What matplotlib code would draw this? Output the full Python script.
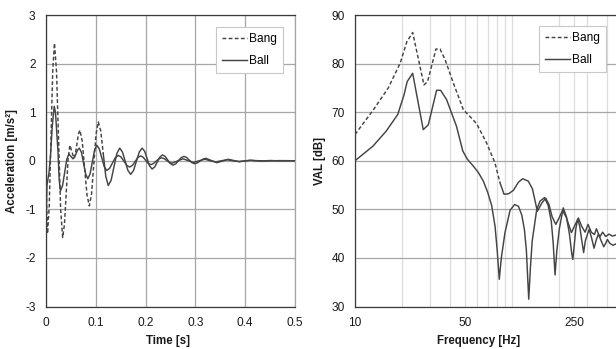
import matplotlib
matplotlib.use("Agg")
import matplotlib.pyplot as plt
from matplotlib.ticker import FixedLocator, NullFormatter

plt.rcParams['font.family'] = ['Liberation Sans', 'DejaVu Sans']

# ---------------- data: time signal ----------------
t_bang = [0.000, 0.003, 0.0065, 0.010, 0.0135, 0.017, 0.0211, 0.0253, 0.0294, 0.0335,
          0.0371, 0.0408, 0.0444, 0.048, 0.052, 0.056, 0.059, 0.062, 0.065, 0.068,
          0.0728, 0.0775, 0.0823, 0.087, 0.0915, 0.096, 0.1005, 0.105, 0.110, 0.115,
          0.120, 0.125, 0.1308, 0.1365, 0.1423, 0.148, 0.1535, 0.159, 0.1645, 0.170,
          0.1758, 0.1815, 0.1873, 0.193, 0.198, 0.203, 0.208, 0.213, 0.2183, 0.2235,
          0.2288, 0.234, 0.2393, 0.2445, 0.2498, 0.255, 0.2605, 0.266, 0.2715, 0.277,
          0.2823, 0.2875, 0.2928, 0.298, 0.3038, 0.3095, 0.3153, 0.321, 0.332, 0.343,
          0.3545, 0.366, 0.377, 0.388, 0.399, 0.410, 0.430, 0.450, 0.470, 0.500]
v_bang = [-0.40, -1.50, -0.93, 0.46, 1.85, 2.42, 1.84, 0.42, -1.00, -1.58,
          -1.30, -0.63, 0.04, 0.32, 0.185, 0.05, 0.135, 0.34, 0.545, 0.63,
          0.40, -0.15, -0.70, -0.93, -0.68, -0.065, 0.55, 0.80, 0.61, 0.145,
          -0.32, -0.51, -0.40, -0.125, 0.15, 0.26, 0.18, -0.01, -0.20, -0.28,
          -0.20, -0.01, 0.18, 0.26, 0.197, 0.045, -0.107, -0.17, -0.128, -0.025,
          0.078, 0.12, 0.089, 0.015, -0.059, -0.09, -0.064, 0.0, 0.064, 0.09,
          0.068, 0.015, -0.038, -0.06, -0.044, -0.005, 0.034, 0.05, 0.005, -0.04,
          -0.005, 0.03, 0.005, -0.02, -0.005, 0.01, -0.008, 0.005, -0.003, 0.0]

t_ball = [0.000, 0.002, 0.006, 0.009, 0.0125, 0.0165, 0.019, 0.0215, 0.024, 0.0265,
          0.029, 0.0333, 0.0375, 0.0418, 0.046, 0.050, 0.054, 0.0573, 0.0605, 0.0638,
          0.067, 0.0713, 0.0755, 0.0798, 0.084, 0.0885, 0.093, 0.0975, 0.102, 0.107,
          0.112, 0.117, 0.122, 0.1278, 0.1335, 0.1393, 0.145, 0.1508, 0.1565, 0.1623,
          0.168, 0.1735, 0.179, 0.1845, 0.190, 0.195, 0.200, 0.205, 0.210, 0.2155,
          0.221, 0.2265, 0.232, 0.2373, 0.2425, 0.2478, 0.253, 0.264, 0.275, 0.2855,
          0.296, 0.3075, 0.319, 0.330, 0.341, 0.352, 0.364, 0.375, 0.387, 0.410,
          0.440, 0.470, 0.500]
v_ball = [-1.20, -0.50, -0.25, 0.10, 0.70, 1.12, 1.00, 0.60, 0.20, -0.40,
          -0.62, -0.51, -0.24, 0.03, 0.14, 0.09, 0.04, 0.072, 0.15, 0.228,
          0.26, 0.168, -0.055, -0.278, -0.37, -0.27, -0.025, 0.22, 0.32, 0.244,
          0.06, -0.124, -0.20, -0.155, -0.045, 0.065, 0.11, 0.075, -0.01, -0.095,
          -0.13, -0.096, -0.015, 0.066, 0.10, 0.074, 0.01, -0.054, -0.08, -0.06,
          -0.01, 0.04, 0.06, 0.044, 0.005, -0.034, -0.05, -0.005, 0.04, 0.003,
          -0.035, 0.0, 0.03, 0.0, -0.025, 0.0, 0.02, 0.0, -0.015, 0.008,
          -0.005, 0.003, 0.0]

# ---------------- data: spectrum ----------------
f_bang = [10.0, 13.1, 16.3, 19.4, 21.4, 23.3, 27.5, 29.0, 32.8, 34.8,
          37.5, 42.3, 49.0, 54.0, 59.6, 68.8, 77.8, 83.8, 89.0, 95.0,
          102, 110, 117, 127, 135, 145, 155, 164, 172, 180,
          190, 200, 210, 222, 239, 252, 265, 278, 292, 305,
          320, 335, 345, 362, 378, 395, 415, 435, 460]
val_bang = [65.4, 70.5, 75.0, 80.1, 84.5, 86.4, 75.6, 76.3, 83.0, 83.0,
            80.8, 76.0, 70.5, 69.1, 67.6, 63.7, 59.6, 55.5, 53.1, 53.2,
            53.9, 55.6, 56.3, 55.8, 54.2, 49.6, 51.3, 52.3, 51.0, 48.5,
            46.9, 48.3, 49.8, 48.3, 45.2, 46.8, 48.2, 46.5, 45.3, 46.9,
            45.3, 44.8, 46.0, 44.3, 45.3, 44.4, 44.9, 44.5, 44.7]

f_ball = [10.0, 13.0, 15.8, 18.7, 20.5, 21.5, 23.3, 27.2, 29.3, 33.1,
          35.1, 38.3, 44.3, 48.6, 52.0, 56.7, 61.0, 65.7, 70.0, 74.2,
          78.0, 80.5, 83.0, 85.5, 90.2, 97.2, 104, 110, 115.5, 120,
          123.5, 127.8, 131, 134.5, 143.8, 151, 161, 170, 178, 183,
          188, 193, 200, 212, 222, 232, 240, 244, 249, 255,
          262, 270, 280, 286, 293, 310, 322, 333, 345, 355,
          370, 384, 395, 405, 420, 440, 460]
val_ball = [60.0, 63.0, 66.1, 69.5, 73.5, 76.3, 78.0, 66.4, 67.4, 74.5,
            74.5, 72.6, 67.1, 62.0, 60.3, 58.9, 57.6, 55.8, 53.5, 50.8,
            46.5, 41.5, 35.6, 40.0, 45.2, 49.8, 51.0, 50.6, 48.8, 45.8,
            41.5, 31.5, 38.0, 43.5, 50.0, 51.7, 52.4, 50.8, 47.5, 43.0,
            36.5, 41.5, 45.9, 50.3, 48.5, 45.0, 41.0, 39.7, 42.5, 46.0,
            48.0, 46.5, 43.0, 41.1, 43.5, 45.9, 44.0, 42.0, 43.8, 44.9,
            43.5, 42.3, 43.0, 43.8, 43.0, 42.6, 42.9]

series_labels = ["Bang", "Ball"]
time_ticks = [0, 0.1, 0.2, 0.3, 0.4, 0.5]
time_ticklabels = ["0", "0.1", "0.2", "0.3", "0.4", "0.5"]
acc_ticks = [-3, -2, -1, 0, 1, 2, 3]
acc_ticklabels = ["-3", "-2", "-1", "0", "1", "2", "3"]
freq_ticks = [10, 50, 250]
freq_ticklabels = ["10", "50", "250"]
val_ticks = [30, 40, 50, 60, 70, 80, 90]

# ---------------- style ----------------
LINE = '#444444'
GRID = '#a6a6a6'
GRID_LIGHT = '#dcdcdc'
SPINE = '#3a3a3a'
TXT = '#1a1a1a'
DASH = (0, (2.6, 1.6))
TFS = 8.6
LFS = 8.3

fig = plt.figure(figsize=(6.16, 3.49), dpi=100)
W, H = 616.0, 349.0

def px_axes(x0, x1, ytop, ybot):
    return fig.add_axes([x0 / W, 1 - ybot / H, (x1 - x0) / W, (ybot - ytop) / H])

# ---------- left: acceleration ----------
ax1 = px_axes(46, 295, 15, 306.5)
split_t = 0.115
i_t = next(i for i, t in enumerate(t_bang) if t >= split_t)
ax1.plot(t_bang[:i_t + 1], v_bang[:i_t + 1], color=LINE, lw=1.05, linestyle=DASH,
         label=series_labels[0], zorder=3)
ax1.plot(t_bang[i_t:], v_bang[i_t:], color=LINE, lw=1.05, zorder=3)
ax1.plot(t_ball, v_ball, color=LINE, lw=1.05, label=series_labels[1], zorder=3)
ax1.set_xlim(0, 0.5)
ax1.set_ylim(-3, 3)
ax1.set_xticks(time_ticks)
ax1.set_xticklabels(time_ticklabels)
ax1.set_yticks(acc_ticks)
ax1.set_yticklabels(acc_ticklabels)
ax1.grid(True, color=GRID, lw=0.9)
ax1.set_axisbelow(True)
ax1.tick_params(length=0, pad=7.5, labelsize=TFS, colors=TXT)
for s in ['left', 'top', 'bottom']:
    ax1.spines[s].set_color(SPINE)
    ax1.spines[s].set_linewidth(0.9)
ax1.spines['right'].set_color(GRID)
ax1.spines['right'].set_linewidth(0.9)
ax1.set_xlabel("Time [s]", fontsize=LFS, fontweight='bold', color=TXT)
ax1.xaxis.set_label_coords(0.49, -0.099)
ax1.set_ylabel("Acceleration [m/s²]", fontsize=LFS, fontweight='bold', color=TXT)
ax1.yaxis.set_label_coords(-0.112, 0.5)

leg1 = ax1.legend(loc='upper right', bbox_to_anchor=(0.952, 0.959), fontsize=TFS,
                  frameon=True, fancybox=False, edgecolor='#c8c8c8', framealpha=1,
                  handlelength=2.1, handletextpad=0.2, labelspacing=0.85,
                  borderpad=0.5, borderaxespad=0)
leg1.get_frame().set_linewidth(0.8)

# ---------- right: VAL ----------
f_right = 10 ** (1 + 261.0 / 157.0)
ax2 = px_axes(355, 616, 15, 306.5)
split_f = 84
i_f = next(i for i, f in enumerate(f_bang) if f >= split_f) - 1
ax2.plot(f_bang[:i_f + 1], val_bang[:i_f + 1], color=LINE, lw=1.05, linestyle=DASH,
         label=series_labels[0], zorder=3)
ax2.plot(f_bang[i_f:], val_bang[i_f:], color=LINE, lw=1.05, zorder=3)
ax2.plot(f_ball, val_ball, color=LINE, lw=1.05, label=series_labels[1], zorder=3)
ax2.set_xscale('log')
ax2.set_xlim(10, f_right)
ax2.set_ylim(30, 90)
ax2.set_yticks(val_ticks)
ax2.xaxis.set_major_locator(FixedLocator(freq_ticks))
ax2.set_xticklabels(freq_ticklabels)
minor = [m * d for d in (10, 100) for m in range(1, 10)]
ax2.xaxis.set_minor_locator(FixedLocator([v for v in minor if v not in freq_ticks]))
ax2.xaxis.set_minor_formatter(NullFormatter())
ax2.grid(True, axis='y', color=GRID, lw=0.9)
ax2.grid(True, axis='x', which='both', color=GRID_LIGHT, lw=0.9)
ax2.set_axisbelow(True)
ax2.tick_params(which='both', length=0, pad=7.5, labelsize=TFS, colors=TXT)
for s in ['left', 'top', 'bottom']:
    ax2.spines[s].set_color(SPINE)
    ax2.spines[s].set_linewidth(0.9)
ax2.spines['right'].set_visible(False)
ax2.set_xlabel("Frequency [Hz]", fontsize=LFS, fontweight='bold', color=TXT)
ax2.xaxis.set_label_coords(0.475, -0.099)
ax2.set_ylabel("VAL [dB]", fontsize=LFS, fontweight='bold', color=TXT)
ax2.yaxis.set_label_coords(-0.111, 0.5)

leg2 = ax2.legend(loc='upper right', bbox_to_anchor=(0.962, 0.962), fontsize=TFS,
                  frameon=True, fancybox=False, edgecolor='#c8c8c8', framealpha=1,
                  handlelength=2.1, handletextpad=0.2, labelspacing=0.85,
                  borderpad=0.5, borderaxespad=0)
leg2.get_frame().set_linewidth(0.8)

fig.savefig("out.png", dpi=100, facecolor='white')
